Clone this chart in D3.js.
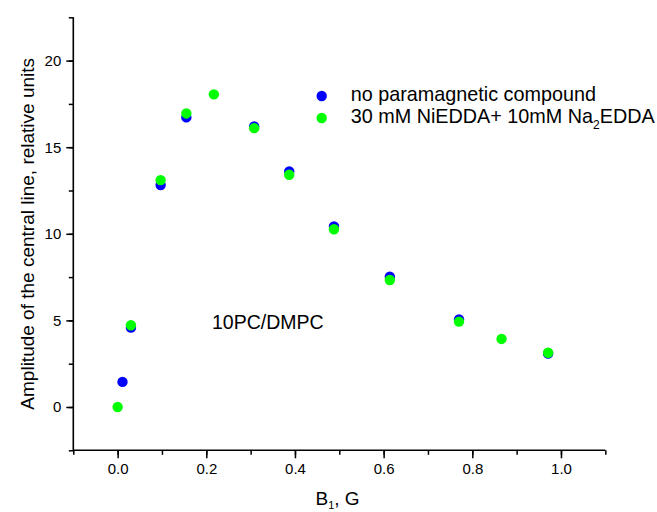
<!DOCTYPE html>
<html>
<head>
<meta charset="utf-8">
<script src="https://cdn.jsdelivr.net/npm/d3@7"></script>
<style>
  body { margin: 0; background: #fff; }
  text { font-family: "Liberation Sans", Arial, sans-serif; fill: #000; }
</style>
</head>
<body>
<svg id="chart" width="657" height="512"></svg>
<script>
// values
var blueB = [0.011, 0.030, 0.097, 0.155, 0.308, 0.387, 0.488, 0.614, 0.770, 0.971];
var blueAmp = [1.45, 4.58, 12.82, 16.72, 16.2, 13.6, 10.42, 7.52, 5.05, 3.08];
var greenB = [0.0, 0.030, 0.097, 0.155, 0.217, 0.308, 0.387, 0.488, 0.614, 0.770, 0.866, 0.971];
var greenAmp = [0.0, 4.72, 13.1, 16.95, 18.05, 16.1, 13.41, 10.26, 7.33, 4.93, 3.93, 3.13];
var xTicks = [0, 0.2, 0.4, 0.6, 0.8, 1.0];
var yTicks = [0, 5, 10, 15, 20];
var seriesNames = ["no paramagnetic compound", "30 mM NiEDDA+ 10mM Na"];

var svg = d3.select("#chart");
var plotL = 73.3, plotR = 605.3, plotT = 17.3, plotB = 450.3;

var x = d3.scaleLinear().domain([-0.1, 1.1]).range([plotL, plotR]);
var y = d3.scaleLinear().domain([-2.5, 22.5]).range([plotB, plotT]);

// minor ticks, no labels
svg.append("g")
    .attr("transform", "translate(0," + plotB + ")")
    .call(d3.axisBottom(x).tickValues(d3.range(-0.1, 1.15, 0.1)).tickSize(4.5).tickFormat(""))
    .call(g => g.select(".domain").remove());
svg.append("g")
    .attr("transform", "translate(" + plotL + ",0)")
    .call(d3.axisLeft(y).tickValues(d3.range(-2.5, 22.6, 2.5)).tickSize(4.5).tickFormat(""))
    .call(g => g.select(".domain").remove());

var xAxis = svg.append("g")
    .attr("transform", "translate(0," + plotB + ")")
    .call(d3.axisBottom(x).tickValues(xTicks).tickSize(8).tickPadding(5).tickFormat(d3.format(".1f")));
var yAxis = svg.append("g")
    .attr("transform", "translate(" + plotL + ",0)")
    .call(d3.axisLeft(y).tickValues(yTicks).tickSize(7).tickPadding(5).tickFormat(d3.format("d")));

[xAxis, yAxis].forEach(function(g) {
    g.attr("font-size", 15).attr("font-family", null);
    g.selectAll("text").attr("fill", "#000");
    g.select(".domain").remove();
});
svg.selectAll(".tick line").attr("stroke", "#000").attr("stroke-width", 1.5);

svg.append("line").attr("x1", plotL).attr("x2", plotR).attr("y1", plotB).attr("y2", plotB)
    .attr("stroke", "#000").attr("stroke-width", 1.6);
svg.append("line").attr("x1", plotL).attr("x2", plotL).attr("y1", plotT).attr("y2", plotB)
    .attr("stroke", "#000").attr("stroke-width", 1.6);

// points
svg.append("g").selectAll("circle")
    .data(d3.zip(blueB, blueAmp))
    .join("circle")
    .attr("cx", d => x(d[0])).attr("cy", d => y(d[1])).attr("r", 5.2)
    .attr("fill", "#0000ff");
svg.append("g").selectAll("circle")
    .data(d3.zip(greenB, greenAmp))
    .join("circle")
    .attr("cx", d => x(d[0])).attr("cy", d => y(d[1])).attr("r", 5.2)
    .attr("fill", "#00ff00");

// legend
var colors = ["#0000ff", "#00ff00"];
var leg = svg.append("g").attr("transform", "translate(321.7,101)");
seriesNames.forEach(function(name, i) {
    var row = leg.append("g").attr("transform", "translate(0," + i * 22 + ")");
    row.append("circle").attr("cx", 0).attr("cy", -5).attr("r", 5.2).attr("fill", colors[i]);
    var t = row.append("text").attr("x", 29).attr("y", 0).style("font-size", "19.8px").text(name);
    if (i == 1) {
        t.append("tspan").attr("dy", 6).style("font-size", "12px").text("2");
        t.append("tspan").attr("dy", -6).text("EDDA");
    }
});

svg.append("text").attr("x", 212).attr("y", 329.3).style("font-size", "19.5px").text("10PC/DMPC");

// axis titles
var xt = svg.append("text").attr("x", 315.5).attr("y", 505)
    .style("font-size", "19px");
xt.append("tspan").text("B");
xt.append("tspan").attr("dy", 4).style("font-size", "11px").text("1");
xt.append("tspan").attr("dy", -4).text(", G");

svg.append("text")
    .attr("transform", "translate(34," + (plotT + plotB) / 2 + ") rotate(-90)")
    .attr("text-anchor", "middle").style("font-size", "19px")
    .text("Amplitude of the central line, relative units");
</script>
</body>
</html>
